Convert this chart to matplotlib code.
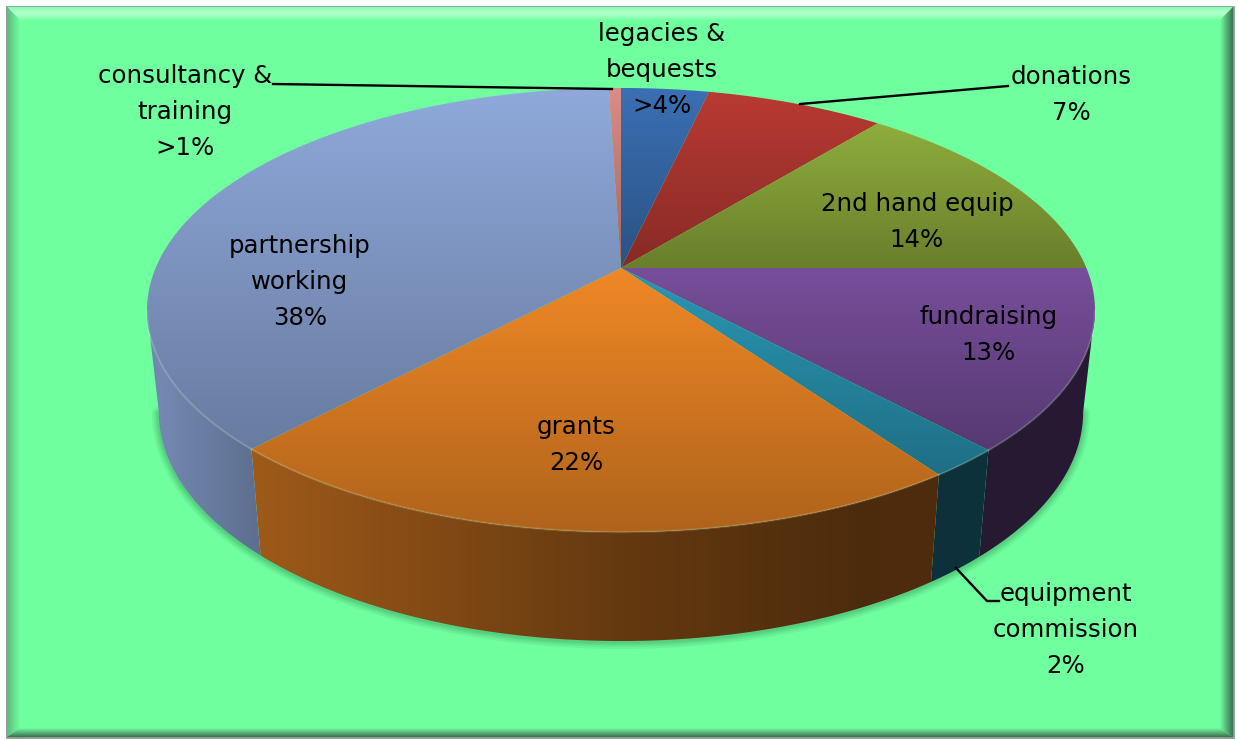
import numpy as np
import matplotlib
matplotlib.use('Agg')
import matplotlib.pyplot as plt
from matplotlib.colors import to_rgb
from matplotlib.patches import Polygon

# slices clockwise from 12 o'clock, shares
names = ['legacies', 'donations', '2nd hand equip', 'fundraising',
         'equipment commission', 'grants', 'partnership working', 'consultancy']
shares = [3.6, 7.3, 14.1, 13.1, 2.1, 21.8, 37.5, 0.5]
colours = ['#3A70B4', '#B93A33', '#8FAD3C', '#774E9B',
           '#2A97B5', '#F08826', '#8FA9DB', '#DC8C86']

labels = ['legacies &\nbequests\n>4%', 'donations\n7%', '2nd hand equip\n14%',
          'fundraising\n13%', 'equipment\ncommission\n2%', 'grants\n22%',
          'partnership\nworking\n38%', 'consultancy &\ntraining\n>1%']
label_x = [662, 1071, 917, 989, 1066, 576, 300, 185]
label_y = [70, 95, 222, 335, 630, 445, 282, 112]

W, H = 1238, 740
BG = '#70FF9F'

# perspective disc
CX, CY, A, B, K = 621, 268, 465.4, 214.1, 0.1893
SHRINK, YSC, CY2 = 0.975, 1.03, 369
# angle where the side meets the silhouette, cos(t) = -K
TAN = np.arccos(-K)


def proj(theta, lower=False):
    u, v = np.sin(theta), np.cos(theta)
    x = A * u / (1 + K * v)
    y = -B * v / (1 + K * v)
    if lower:
        return CX + SHRINK * x, CY2 + YSC * y
    return CX + x, CY + y


def grad_fill(ax, poly, colfunc, zorder):
    # paint colfunc(x, y) inside the polygon
    poly = np.asarray(poly)
    x0, y0 = np.floor(poly.min(axis=0)).astype(int) - 1
    x1, y1 = np.ceil(poly.max(axis=0)).astype(int) + 1
    xx, yy = np.meshgrid(np.arange(x0, x1) + 0.5, np.arange(y0, y1) + 0.5)
    im = ax.imshow(np.clip(colfunc(xx, yy), 0, 1), extent=(x0, x1, y1, y0),
                   zorder=zorder, interpolation='bilinear', aspect='auto')
    patch = Polygon(poly, closed=True, transform=ax.transData, fc='none', ec='none')
    ax.add_patch(patch)
    im.set_clip_path(patch)


def top_shade(col, ymin, ymax):
    rgb = np.array(to_rgb(col))
    def f(xx, yy):
        k = 1.0 - 0.27 * (yy - ymin) / (ymax - ymin)
        return rgb[None, None, :] * k[..., None]
    return f


def side_shade(col):
    rgb = np.array(to_rgb(col))
    def f(xx, yy):
        k = np.interp(xx, [160, 255, 621, 860, 1090], [0.81, 0.66, 0.42, 0.32, 0.33])
        return rgb[None, None, :] * k[..., None]
    return f


fig = plt.figure(figsize=(W / 100, H / 100), dpi=100, facecolor='white')
ax = fig.add_axes([0, 0, 1, 1])
ax.set_xlim(0, W)
ax.set_ylim(H, 0)
ax.axis('off')

# panel with bevelled frame
L, T, R, Bt = 7, 7, 1233, 737
BW = 13
ax.add_patch(plt.Rectangle((L, T), R - L, Bt - T, fc=BG, ec='#8a9a90', lw=2, zorder=1))
bg = np.array(to_rgb(BG))
light = np.array(to_rgb('#B8FFD2'))
dark = np.array(to_rgb('#3C6E50'))


def mix(c, t):
    return bg[None, None, :] * (1 - t[..., None]) + c[None, None, :] * t[..., None]


grad_fill(ax, [(L, T), (R, T), (R - BW, T + BW), (L + BW, T + BW)],
          lambda x, y: mix(light, np.clip(1 - np.abs(y - T - 6) / 8, 0, 1)), 2)
grad_fill(ax, [(L, T), (L + BW, T + BW), (L + BW, Bt - 9), (L, Bt)],
          lambda x, y: mix(np.array(to_rgb('#5FB880')), np.clip(1 - (x - L) / BW, 0, 1)), 2)
grad_fill(ax, [(R, T), (R - BW, T + BW), (R - BW, Bt - 9), (R, Bt)],
          lambda x, y: mix(dark, np.clip(1 - (R - x) / BW, 0, 1)), 2)
grad_fill(ax, [(L, Bt), (L + BW, Bt - 9), (R - BW, Bt - 9), (R, Bt)],
          lambda x, y: mix(dark, np.clip(1 - (Bt - y) / 9, 0, 1)), 2)

# soft shadow below the disc
ring = np.linspace(TAN, 2 * np.pi - TAN, 300)
sx, sy = proj(ring, lower=True)
for w in [10, 7, 4.5, 2.5]:
    ax.plot(sx, sy + 1, color='#1c5a38', alpha=0.08, lw=w, zorder=3, solid_capstyle='round')

fractions = np.array(shares) / np.sum(shares)
edges = np.concatenate([[0], np.cumsum(fractions)]) * 2 * np.pi

# sides first, only the part of each slice facing the viewer
for a0, a1, col in zip(edges[:-1], edges[1:], colours):
    s0, s1 = max(a0, TAN), min(a1, 2 * np.pi - TAN)
    if s1 <= s0:
        continue
    t = np.linspace(s0, s1, max(int((s1 - s0) * 120), 4))
    xt, yt = proj(t)
    xb, yb = proj(t, lower=True)
    poly = np.column_stack([np.r_[xt, xb[::-1]], np.r_[yt, yb[::-1]]])
    grad_fill(ax, poly, side_shade(col), 4)

for a0, a1, col in zip(edges[:-1], edges[1:], colours):
    t = np.linspace(a0, a1, max(int((a1 - a0) * 120), 4))
    xt, yt = proj(t)
    poly = np.column_stack([np.r_[CX, xt], np.r_[CY, yt]])
    grad_fill(ax, poly, top_shade(col, poly[:, 1].min(), poly[:, 1].max()), 5)
    # thin lit rim on the front edge
    front = (t > TAN) & (t < 2 * np.pi - TAN)
    if front.sum() > 1:
        ax.plot(xt[front], yt[front], color='white', alpha=0.13, lw=1.6, zorder=6)

# leader lines
ax.plot([273, 612], [84, 89], color='black', lw=1.7, zorder=7)
ax.plot([1008, 800], [86, 104], color='black', lw=1.7, zorder=7)
ax.plot([956, 987, 999], [568, 601, 601], color='black', lw=1.7, zorder=7)

for txt, x, y in zip(labels, label_x, label_y):
    ax.text(x, y, txt, ha='center', va='center', fontsize=17.6, family='DejaVu Sans',
            color='black', linespacing=1.63, zorder=8)

fig.savefig('out.png', dpi=100, facecolor='white')
